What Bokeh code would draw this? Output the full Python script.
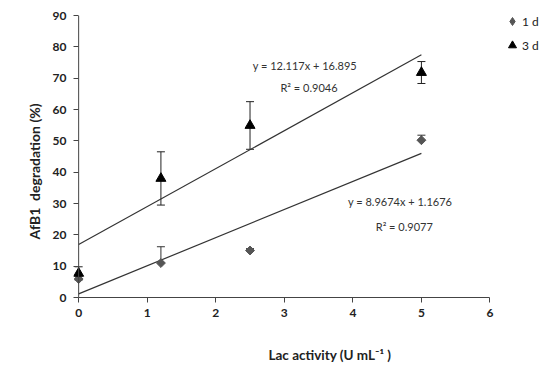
import math
from bokeh.plotting import figure
from bokeh.models import (Range1d, ColumnDataSource, Whisker, TeeHead, Label,
                          Legend, LegendItem, FixedTicker, Span, Title)
from bokeh.embed import file_html
from bokeh.resources import INLINE

# ---- data ----
lac_activity = [0, 1.2, 2.5, 5]
deg_1d = [5.9, 11.0, 15.0, 50.2]
err_1d = [1.0, 5.2, 0.6, 1.6]
deg_3d = [7.7, 38.0, 54.9, 71.8]
err_3d = [2.1, 8.5, 7.6, 3.5]
fit_x = [0, 5]
slope_1d, icpt_1d, r2_1d = 8.9674, 1.1676, 0.9077
slope_3d, icpt_3d, r2_3d = 12.117, 16.895, 0.9046
x_ticks = [0, 1, 2, 3, 4, 5, 6]
y_ticks = [0, 10, 20, 30, 40, 50, 60, 70, 80, 90]

FONT = "Lato"
TXT = "#222222"
AX = "#444444"

# frame extends past x=6 (invisible: no outline, no grid) so the legend fits inside it
p = figure(width=550, height=387, output_backend="svg", toolbar_location=None,
           x_range=Range1d(-0.075, 6.81), y_range=Range1d(0, 90),
           min_border_left=73, min_border_right=5, min_border_top=15,
           min_border_bottom=81)
p.outline_line_color = None
p.grid.visible = False
p.background_fill_color = "white"

for ax in (p.xaxis[0], p.yaxis[0]):
    ax.axis_line_color = AX
    ax.axis_line_width = 1
    ax.major_tick_line_color = AX
    ax.major_tick_out = 5
    ax.major_tick_in = 0
    ax.minor_tick_line_color = None
    ax.major_label_text_font = FONT
    ax.major_label_text_font_style = "bold"
    ax.major_label_text_font_size = "12px"
    ax.major_label_text_color = TXT
    ax.major_label_standoff = 6
p.xaxis[0].ticker = FixedTicker(ticks=x_ticks)
p.yaxis[0].ticker = FixedTicker(ticks=y_ticks)
p.xaxis[0].bounds = (0, 6)
# y axis line drawn at x = 0 (frame is padded a little so markers at x=0 are whole)
p.yaxis[0].axis_line_color = None
p.yaxis[0].major_tick_out = 0
p.yaxis[0].major_tick_in = 5
p.yaxis[0].major_label_standoff = 7
p.add_layout(Span(location=0, dimension="height", line_color=AX, line_width=1))

# axis titles
p.add_layout(Title(text="Lac activity (U mL⁻¹ )", align="left", offset=195,
                   text_font=FONT, text_font_style="bold", text_font_size="13.5px",
                   text_color=TXT, standoff=50), "below")
p.add_layout(Title(text="AfB1\u00a0\u00a0degradation (%)", align="left", offset=58,
                   text_font=FONT, text_font_style="bold", text_font_size="14px",
                   text_color=TXT, standoff=14), "left")

# trend lines
fit_1d = [slope_1d * v + icpt_1d for v in fit_x]
fit_3d = [slope_3d * v + icpt_3d for v in fit_x]
p.line(fit_x, fit_3d, line_color="#333333", line_width=1.2)
p.line(fit_x, fit_1d, line_color="#333333", line_width=1.2)

# error bars
src1 = ColumnDataSource(dict(x=lac_activity, y=deg_1d,
                             up=[a + b for a, b in zip(deg_1d, err_1d)]))
src3 = ColumnDataSource(dict(x=lac_activity, y=deg_3d,
                             up=[a + b for a, b in zip(deg_3d, err_3d)],
                             lo=[a - b for a, b in zip(deg_3d, err_3d)]))
w1 = Whisker(source=src1, base="x", upper="up", lower="y",
             line_color="#333333", line_width=1,
             upper_head=TeeHead(size=8, line_color="#333333", line_width=1),
             lower_head=None)
w3 = Whisker(source=src3, base="x", upper="up", lower="lo",
             line_color="#222222", line_width=1,
             upper_head=TeeHead(size=8, line_color="#222222", line_width=1),
             lower_head=TeeHead(size=8, line_color="#222222", line_width=1))
p.add_layout(w1)
p.add_layout(w3)

r1 = p.scatter("x", "y", source=src1, marker="square", angle=math.pi / 4,
               size=6.3, fill_color="#555555", line_color="#555555")
r3 = p.scatter("x", "y", source=src3, marker="triangle", size=10,
               fill_color="#000000", line_color="#000000")
# legend key for the 1 d series (legend keys are drawn unrotated, so use a diamond);
# it has a single empty (NaN) point so nothing is drawn in the plot itself
nan = float("nan")
r1_key = p.scatter(x=[nan], y=[nan], marker="diamond", fill_color="#555555",
                   line_color="#555555")

legend = Legend(items=[LegendItem(label="1 d", renderers=[r1_key]),
                       LegendItem(label="3 d", renderers=[r3])],
                location=(429, 242), padding=0, margin=0, spacing=4,
                glyph_width=20, glyph_height=20, label_height=20,
                label_standoff=0, border_line_color=None,
                background_fill_alpha=0, label_text_font=FONT,
                label_text_font_size="12px", label_text_color=TXT)
p.add_layout(legend)

# equation labels
ann = dict(text_font=FONT, text_font_size="11px", text_color="#333333",
           text_align="center", text_baseline="middle")
p.add_layout(Label(x=3.30, y=73.9, text=f"y = {slope_3d}x + {icpt_3d}", **ann))
p.add_layout(Label(x=3.36, y=67.1, text=f"R² = {r2_3d}", **ann))
p.add_layout(Label(x=4.69, y=30.6, text=f"y = {slope_1d}x + {icpt_1d}", **ann))
p.add_layout(Label(x=4.75, y=22.6, text=f"R² = {r2_1d}", **ann))

open("out.html", "w").write(file_html(p, INLINE))
